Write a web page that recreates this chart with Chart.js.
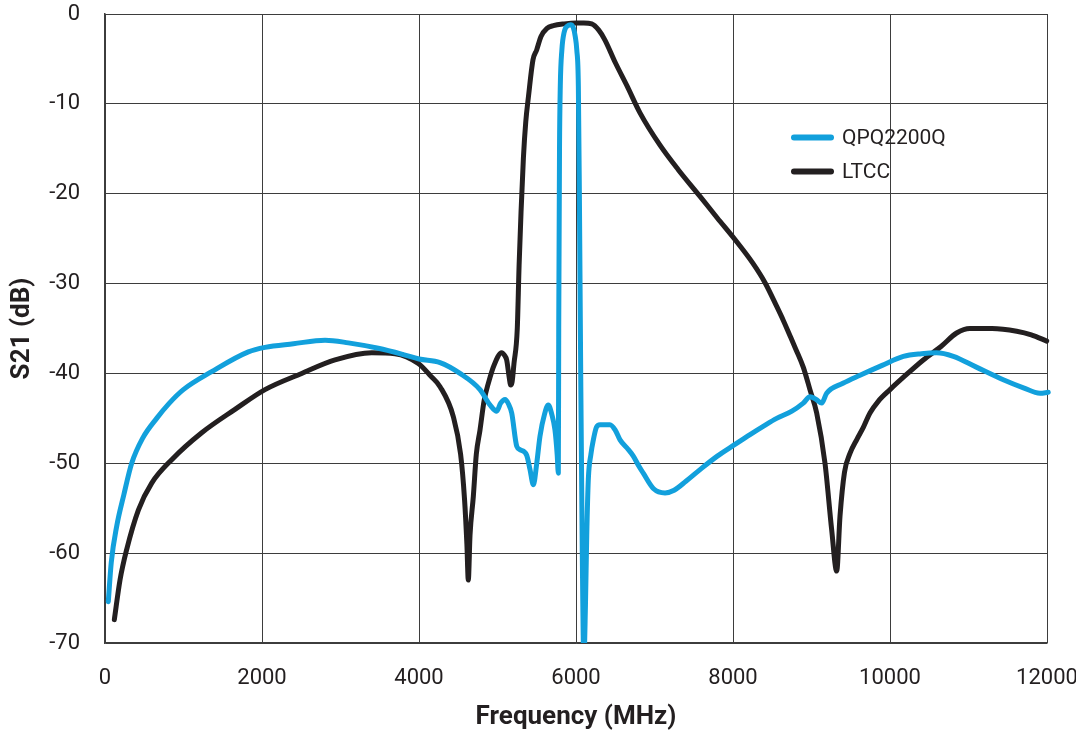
<!DOCTYPE html>
<html>
<head>
<meta charset="utf-8">
<script src="https://cdn.jsdelivr.net/npm/chart.js@4.4.1/dist/chart.umd.min.js"></script>
<style>
  html, body { margin: 0; padding: 0; background: #ffffff; }
  #wrap { width: 1076px; height: 736px; }
</style>
</head>
<body>
<div id="wrap"><canvas id="c" width="1076" height="736"></canvas></div>
<script>
// ---- Data ----
const seriesNames = ["QPQ2200Q", "LTCC"];

const qpqFreq = [42, 80, 149, 240, 340, 480, 658, 820, 998, 1359, 1826, 2038, 2400, 2803, 3100, 3482, 3800, 4000, 4268, 4522, 4777, 4904, 4990, 5040, 5096, 5140, 5181, 5245, 5290, 5372, 5414, 5457, 5500, 5541, 5600, 5647, 5690, 5732, 5760, 5775,
  5780, 5790, 5800, 5820, 5850, 5895, 5930, 5965, 5990, 6010, 6030, 6043, 6060, 6080, 6100, 6120, 6137, 6157, 6190, 6221, 6260, 6306, 6433, 6500, 6561, 6650, 6730, 6800, 6857, 6985, 7134, 7250, 7400, 7580, 7800, 8025, 8217, 8400, 8556, 8750, 8895, 8981, 9060, 9130, 9193, 9400, 9618, 9900, 10170, 10400, 10594, 10807, 11100, 11443, 11700, 11911, 12016];
const qpqDb = [-65.4, -61.0, -57.0, -53.5, -50.0, -47.2, -45.0, -43.3, -41.8, -39.8, -37.6, -37.1, -36.7, -36.3, -36.6, -37.2, -37.9, -38.4, -38.8, -40.0, -41.8, -43.5, -44.2, -43.3, -42.9, -43.4, -44.4, -48.1, -48.5, -49.1, -50.7, -52.4, -50.0, -47.0, -44.5, -43.5, -44.5, -46.3, -49.0, -51.1,
  -35.0, -15.0, -8.0, -4.0, -2.0, -1.3, -1.2, -1.5, -2.5, -4.0, -8.0, -20.0, -40.0, -60.0, -72.0, -66.0, -58.0, -51.8, -49.0, -47.4, -46.0, -45.7, -45.7, -46.3, -47.4, -48.3, -49.2, -50.3, -51.1, -52.8, -53.3, -53.0, -52.0, -50.7, -49.2, -47.9, -46.8, -45.8, -45.0, -44.2, -43.3, -42.6, -42.9, -43.3, -42.2, -41.1, -40.2, -39.1, -38.1, -37.8, -37.7, -38.1, -39.3, -40.7, -41.6, -42.2, -42.1];

const ltccFreq = [119, 191, 276, 425, 595, 850, 1232, 1656, 2038, 2506, 2930, 3397, 3694, 3991, 4150, 4270, 4437, 4530, 4580, 4610, 4628, 4650, 4692, 4730, 4777, 4830, 4883, 4960, 5053, 5090, 5117, 5150, 5168, 5185, 5210, 5252, 5275, 5300, 5330, 5360, 5393, 5452, 5499, 5554, 5630, 5711, 5850, 6008, 6100, 6200, 6290, 6369, 6500, 6650, 6815, 7070, 7300, 7580, 7800, 8025, 8250, 8408, 8560, 8641, 8726, 8800, 8895, 8980, 9066, 9172, 9257, 9321, 9363, 9420, 9490, 9580, 9660, 9745, 9850, 10000, 10200, 10424, 10650, 10849, 11019, 11300, 11614, 11800, 11996];
const ltccDb = [-67.4, -63.0, -59.6, -55.2, -52.2, -49.6, -46.6, -44.0, -41.8, -40.0, -38.5, -37.7, -37.8, -38.9, -40.3, -41.5, -44.8, -49.0, -54.0, -59.0, -63.0, -58.0, -53.7, -49.0, -46.3, -43.0, -41.1, -39.0, -37.7, -38.0, -38.5, -40.5, -41.3, -41.0, -38.9, -35.0, -28.0, -22.0, -16.0, -12.0, -9.3, -5.1, -4.0, -2.5, -1.6, -1.3, -1.1, -1.0, -1.0, -1.1, -1.8, -2.9, -5.4, -8.0, -11.0, -14.6, -17.3, -20.3, -22.7, -25.1, -27.7, -29.9, -32.6, -34.1, -35.8, -37.3, -39.3, -41.8, -44.4, -50.0, -57.4, -62.0, -55.9, -51.0, -48.9, -47.3, -46.0, -44.4, -43.1, -41.8, -40.2, -38.5, -37.0, -35.5, -35.0, -35.0, -35.3, -35.7, -36.4];

const xTicks = [0, 2000, 4000, 6000, 8000, 10000, 12000];
const yTicks = [0, -10, -20, -30, -40, -50, -60, -70];
const xTitle = "Frequency (MHz)";
const yTitle = "S21 (dB)";

// ---- Build chart ----
const toPoints = (xs, ys) => xs.map((x, i) => ({ x: x, y: ys[i] }));
const colors = ["#12a0dc", "#231f20"];
const FONT = "Roboto, 'DejaVu Sans', sans-serif";

const legendPlugin = {
  id: 'insideLegend',
  afterDatasetsDraw(chart) {
    const ctx = chart.ctx;
    const x0 = 794, x1 = 831, tx = 842;
    const rows = [137.5, 171.5];
    ctx.save();
    chart.data.datasets.forEach((ds, i) => {
      const y = rows[i];
      ctx.strokeStyle = ds.borderColor;
      ctx.lineWidth = 6;
      ctx.lineCap = 'round';
      ctx.beginPath();
      ctx.moveTo(x0, y);
      ctx.lineTo(x1, y);
      ctx.stroke();
      ctx.fillStyle = '#231f20';
      ctx.font = "21px " + FONT;
      ctx.textBaseline = 'middle';
      ctx.textAlign = 'left';
      ctx.fillText(ds.label, tx, y + 1);
    });
    ctx.restore();
  }
};

new Chart(document.getElementById('c'), {
  type: 'line',
  data: {
    datasets: [
      { label: seriesNames[0], data: toPoints(qpqFreq, qpqDb), borderColor: colors[0], backgroundColor: colors[0] },
      { label: seriesNames[1], data: toPoints(ltccFreq, ltccDb), borderColor: colors[1], backgroundColor: colors[1] }
    ]
  },
  options: {
    responsive: false,
    animation: false,
    layout: { padding: { top: 14, right: 29, left: 0, bottom: 0 } },
    elements: {
      point: { radius: 0 },
      line: { borderWidth: 5, cubicInterpolationMode: 'monotone', borderCapStyle: 'round', borderJoinStyle: 'round', fill: false }
    },
    datasets: { line: { clip: { left: 5, top: 5, right: 5, bottom: 0 } } },
    plugins: {
      legend: { display: false },
      tooltip: { enabled: false }
    },
    scales: {
      x: {
        type: 'linear',
        min: 0, max: 12000,
        afterBuildTicks: (s) => { s.ticks = xTicks.map(v => ({ value: v })); },
        ticks: { color: '#231f20', font: { family: FONT, size: 22 }, padding: 22, maxRotation: 0, callback: (v) => String(v) },
        grid: { color: '#3d3d3d', lineWidth: 1, drawTicks: false },
        border: { display: true, color: '#3d3d3d', width: 1.5 },
        title: { display: true, text: xTitle, color: '#231f20', font: { family: FONT, size: 26, weight: 'bold' }, padding: { top: 0, bottom: 3 } },
        afterFit: (s) => { s.height = 736 - 643; s.paddingLeft = 0; s.paddingRight = 0; }
      },
      y: {
        type: 'linear',
        min: -70, max: 0,
        afterBuildTicks: (s) => { s.ticks = yTicks.map(v => ({ value: v })); },
        ticks: { color: '#231f20', font: { family: FONT, size: 22 }, padding: 25, callback: (v) => String(v) },
        grid: { color: '#3d3d3d', lineWidth: 1, drawTicks: false },
        border: { display: true, color: '#3d3d3d', width: 1.5 },
        title: { display: true, text: yTitle, color: '#231f20', font: { family: FONT, size: 26, weight: 'bold' }, padding: { top: 7, bottom: 0 } },
        afterFit: (s) => { s.width = 105; s.paddingTop = 0; s.paddingBottom = 0; }
      }
    }
  },
  plugins: [legendPlugin]
});
</script>
</body>
</html>
